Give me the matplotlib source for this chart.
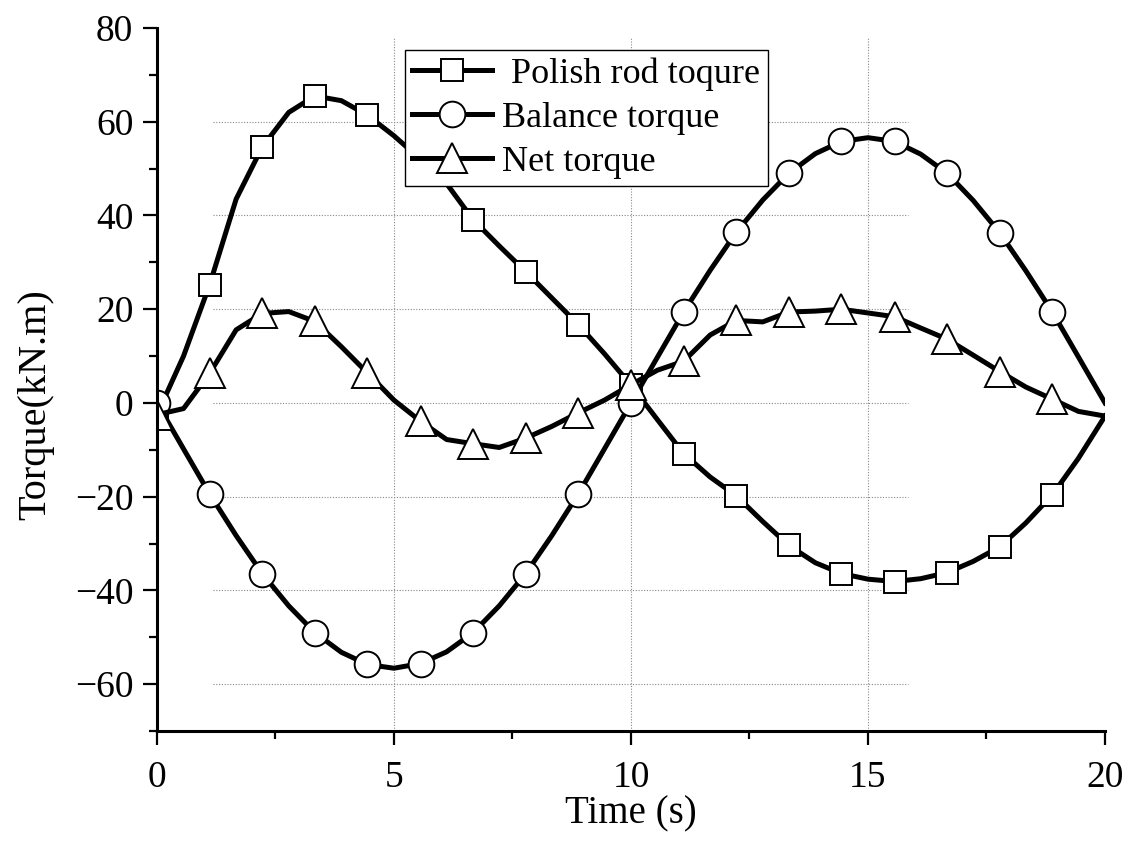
import matplotlib.pyplot as plt
from matplotlib.ticker import MultipleLocator

plt.rcParams['font.family'] = ['Liberation Serif', 'DejaVu Serif']
plt.rcParams['axes.unicode_minus'] = True

# time samples (s): marker positions plus the points read halfway between them
time_s = [0.0, 0.56, 1.11, 1.67, 2.22, 2.78, 3.33, 3.89, 4.44, 5.0, 5.56, 6.11,
          6.67, 7.22, 7.78, 8.33, 8.89, 9.44, 10.0, 10.56, 11.11, 11.67, 12.22,
          12.78, 13.33, 13.89, 14.44, 15.0, 15.56, 16.11, 16.67, 17.22, 17.78,
          18.33, 18.89, 19.44, 20.0]

polish_rod = [-2.5, 10.0, 25.2, 43.5, 54.6, 62.0, 65.5, 64.5, 61.4, 57.0, 52.0,
              46.8, 39.1, 33.5, 28.0, 22.4, 16.7, 10.5, 3.8, -3.6, -10.8, -15.8,
              -19.8, -25.3, -30.4, -34.1, -36.4, -37.6, -38.1, -37.5, -36.2,
              -33.8, -30.7, -25.6, -19.6, -11.8, -2.8]

balance = [0.0, -9.8, -19.4, -28.3, -36.4, -43.3, -49.0, -53.2, -55.8, -56.6,
           -55.6, -53.1, -49.0, -43.3, -36.4, -28.3, -19.4, -9.8, 0.0, 9.8, 19.4,
           28.3, 36.4, 43.3, 49.0, 53.2, 55.8, 56.6, 55.8, 53.1, 49.0, 43.2,
           36.3, 28.2, 19.4, 9.8, 0.0]

net = [-2.5, -1.2, 6.3, 15.6, 19.1, 19.5, 17.4, 12.0, 6.4, 0.6, -3.9, -7.8,
       -8.7, -9.5, -7.5, -5.0, -2.1, 0.6, 3.9, 7.0, 8.9, 14.5, 17.6, 17.3,
       19.4, 19.6, 20.0, 19.2, 18.4, 16.0, 13.6, 10.2, 6.7, 3.4, 0.8, -1.8, -2.8]

labels = [' Polish rod toqure', 'Balance torque', 'Net torque']
grid_y = [-60, -40, -20, 0, 20, 40, 60]
grid_x = [5, 10, 15]

fig = plt.figure(figsize=(11.4, 8.57), dpi=100)
ax = fig.add_axes([0.1377, 0.147, 0.8316, 0.8203])

# partial dotted grid as in the original
ax.hlines(grid_y, 1.18, 15.84, colors='#888888', linestyles=(0, (1, 1.5)), lw=0.8, zorder=0)
ax.vlines(grid_x, -70, 77.9, colors='#888888', linestyles=(0, (1, 1.5)), lw=0.8, zorder=0)

style = dict(color='black', lw=3.6, mfc='white', mec='black', mew=1.4,
             markevery=slice(0, 36, 2))
ax.plot(time_s, polish_rod, marker='s', ms=16.5, label=labels[0], **style)
ax.plot(time_s, balance, marker='o', ms=18.5, label=labels[1], **style)
ax.plot(time_s, net, marker='^', ms=21, label=labels[2], **style)

ax.set_xlim(0, 20)
ax.set_ylim(-70, 80)
ax.xaxis.set_major_locator(MultipleLocator(5))
ax.xaxis.set_minor_locator(MultipleLocator(2.5))
ax.yaxis.set_major_locator(MultipleLocator(20))
ax.yaxis.set_minor_locator(MultipleLocator(10))

for side in ['top', 'right']:
    ax.spines[side].set_visible(False)
for side in ['left', 'bottom']:
    ax.spines[side].set_linewidth(2.2)

ax.tick_params(which='major', direction='out', length=10, width=1.6, labelsize=27, pad=7)
ax.tick_params(which='minor', direction='out', length=6, width=1.6)
ax.tick_params(axis='x', which='major', pad=11)

ax.set_xlabel('Time (s)', fontsize=28)
ax.set_ylabel('Torque(kN.m)', fontsize=29)
ax.xaxis.set_label_coords(0.5, -0.092)
ax.yaxis.set_label_coords(-0.108, 0.464)

leg = ax.legend(loc='upper left', bbox_to_anchor=(0.2616, 0.9687), borderaxespad=0,
                fontsize=26, handlelength=2.2, handletextpad=0.3, labelspacing=0.3,
                borderpad=0.2, fancybox=False, framealpha=1, edgecolor='black')
leg.get_frame().set_linewidth(1.0)

fig.savefig('out.png', dpi=100)
